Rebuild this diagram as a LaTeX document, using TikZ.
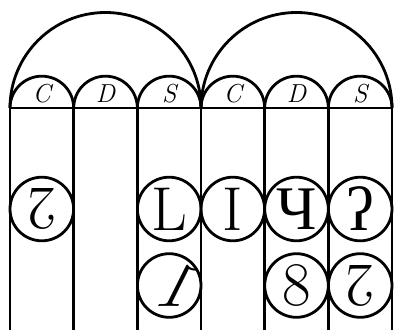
\documentclass[tikz,border=0pt]{standalone}
\usepackage{fontspec}
\usepackage{graphicx}
\newfontfamily\cyrserif{Liberation Serif}
\newfontfamily\backslant{lmroman10-regular.otf}[FakeSlant=-0.5]
\begin{document}
\begin{tikzpicture}[x=1pt, y=1pt, line width=2.8pt]
        \tikzset{
            digit/.style={circle, draw, inner sep=0pt, minimum size=63.6pt, font=\fontsize{62}{62}\selectfont},
            cell/.style={inner sep=0pt, font=\fontsize{26}{26}\selectfont\itshape}
        }
        \useasboundingbox (0,0) rectangle (395,333);
        % big arches
        \draw (10,225) arc[start angle=180, end angle=0, radius=95.5];
        \draw (201,225) arc[start angle=180, end angle=0, radius=95.5];
        % small arches and posts
        \foreach \i in {0,...,5}
            \draw (10+63.67*\i,225) arc[start angle=180, end angle=0, radius=31.83];
        \foreach \i in {0,...,6}
            \draw (10+63.67*\i,225) -- (10+63.67*\i,3);
        \draw (10,225) -- (392,225);
        % cell labels
        \node[cell] (c1) at (41.8,239) {C};
        \node[cell] (d1) at (105.5,239) {D};
        \node[cell] (s1) at (169.2,239) {S};
        \node[cell] (c2) at (232.8,239) {C};
        \node[cell] (d2) at (296.5,239) {D};
        \node[cell] (s2) at (360.2,239) {S};
        % first row
        \node[digit] (c1a) at (41.8,124) {\rotatebox{180}{2}};
        \node[digit] (s1a) at (169.2,124) {L};
        \node[digit] (c2a) at (232.8,124) {I};
        \node[digit] (d2a) at (296.5,124) {\cyrserif Ч};
        \node[digit] (s2a) at (360.2,124) {\cyrserif ʔ};
        % second row
        \node[digit] (s1b) at (169.2,47.5) {\reflectbox{\backslant 1}};
        \node[digit] (d2b) at (296.5,47.5) {8};
        \node[digit] (s2b) at (360.2,47.5) {\rotatebox{180}{2}};
\end{tikzpicture}
\end{document}
